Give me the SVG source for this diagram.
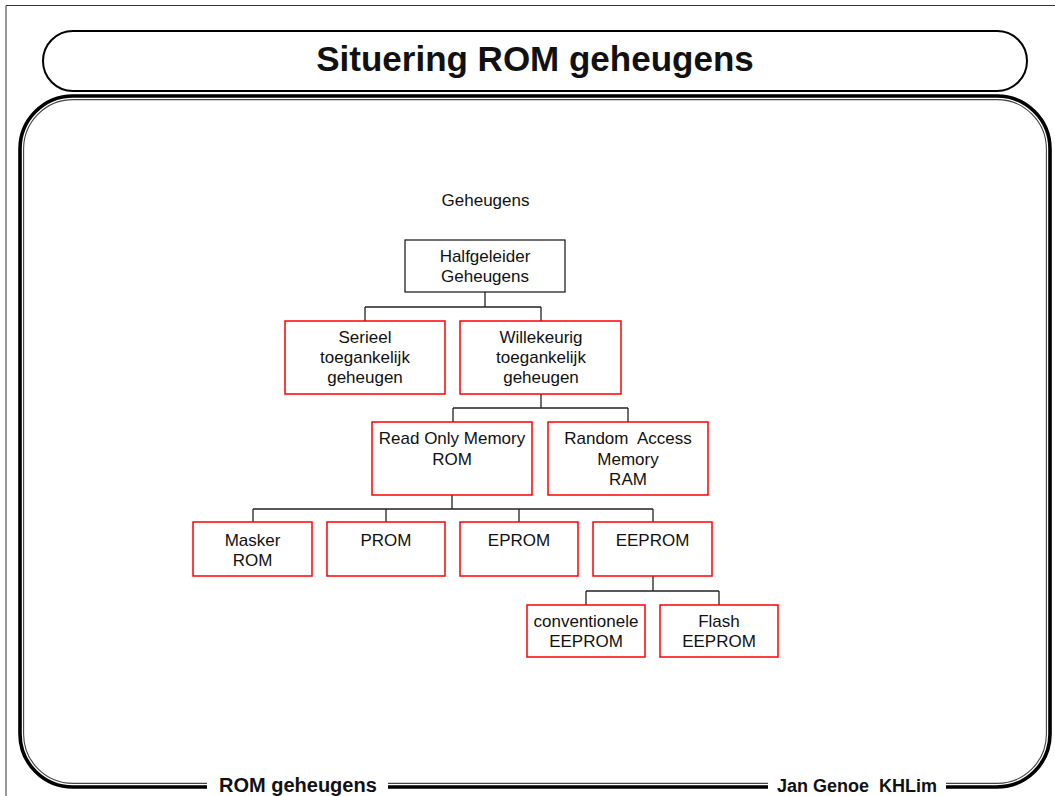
<svg xmlns="http://www.w3.org/2000/svg" width="1055" height="796" viewBox="0 0 1055 796">
<style>
.bg{fill:#fff}
.node rect{fill:#fff;stroke:#ff0000;stroke-width:1.5}
.node.black rect{stroke:#111;stroke-width:1.2}
.node text, .lbl{font-family:"Liberation Sans",Arial,sans-serif;font-size:17px;fill:#111;text-anchor:middle}
.conn{fill:none;stroke:#222;stroke-width:1.3}
.frame-thick{fill:none;stroke:#000;stroke-width:3.6}
.frame-thin{fill:none;stroke:#444;stroke-width:1.1}
.foot{font-family:"Liberation Sans",Arial,sans-serif;font-weight:bold;fill:#111}
</style>
<rect class="bg" x="0" y="0" width="1055" height="796"/>
<g id="page-frame">
<path d="M6,796 V5.5 H1055" fill="none" stroke="#333" stroke-width="1"/>
<rect x="43" y="31" width="984" height="60" rx="30" ry="30" fill="#fff" stroke="#000" stroke-width="2"/>
<text x="535" y="71" font-family="Liberation Sans,Arial,sans-serif" font-weight="bold" font-size="35" text-anchor="middle" fill="#111">Situering ROM geheugens</text>
<path class="frame-thick" d="M207,787 H73 A53,53 0 0 1 20,734 V149 A53,53 0 0 1 73,96 H997 A53,53 0 0 1 1050,149 V734 A53,53 0 0 1 997,787 H946 M768,787 H388"/>
<path class="frame-thin" d="M207,783.4 H73 A49.4,49.4 0 0 1 23.6,734 V149 A49.4,49.4 0 0 1 73,99.6 H997 A49.4,49.4 0 0 1 1046.4,149 V734 A49.4,49.4 0 0 1 997,783.4 H946 M768,783.4 H388"/>
<text class="foot" x="219" y="792" font-size="20">ROM geheugens</text>
<text class="foot" x="777" y="792" font-size="18" xml:space="preserve">Jan Genoe  KHLim</text>
</g>
<text class="lbl" x="485.5" y="206">Geheugens</text>
<g id="connectors">
<path class="conn" d="M485,292 V307 M365,307 H541 M365,307 V321 M541,307 V321"/>
<path class="conn" d="M541,394 V408 M453,408 H628 M453,408 V422 M628,408 V422"/>
<path class="conn" d="M452,495 V509 M253,509 H653 M253,509 V522 M386,509 V522 M519,509 V522 M653,509 V522"/>
<path class="conn" d="M653,576 V591 M586,591 H719 M586,591 V605 M719,591 V605"/>
</g>
<g id="n-halfgeleider" class="node black">
<rect x="405" y="240" width="160" height="52"/>
<text x="485" y="262">Halfgeleider</text>
<text x="485" y="282">Geheugens</text>
</g>
<g id="n-serieel" class="node">
<rect x="285" y="321" width="160" height="73"/>
<text x="365" y="343">Serieel</text>
<text x="365" y="363">toegankelijk</text>
<text x="365" y="383">geheugen</text>
</g>
<g id="n-willekeurig" class="node">
<rect x="460" y="321" width="161" height="73"/>
<text x="541" y="343">Willekeurig</text>
<text x="541" y="363">toegankelijk</text>
<text x="541" y="383">geheugen</text>
</g>
<g id="n-rom" class="node">
<rect x="372" y="422" width="160" height="73"/>
<text x="452" y="444">Read Only Memory</text>
<text x="452" y="465">ROM</text>
</g>
<g id="n-ram" class="node">
<rect x="548" y="422" width="160" height="73"/>
<text x="628" y="444" xml:space="preserve">Random  Access</text>
<text x="628" y="465">Memory</text>
<text x="628" y="485">RAM</text>
</g>
<g id="n-masker" class="node">
<rect x="193" y="522" width="119" height="54"/>
<text x="252.5" y="546">Masker</text>
<text x="252.5" y="566">ROM</text>
</g>
<g id="n-prom" class="node">
<rect x="327" y="522" width="118" height="54"/>
<text x="386" y="546">PROM</text>
</g>
<g id="n-eprom" class="node">
<rect x="460" y="522" width="118" height="54"/>
<text x="519" y="546">EPROM</text>
</g>
<g id="n-eeprom" class="node">
<rect x="593" y="522" width="119" height="54"/>
<text x="652.5" y="546">EEPROM</text>
</g>
<g id="n-conv" class="node">
<rect x="527" y="605" width="118" height="52"/>
<text x="586" y="627">conventionele</text>
<text x="586" y="647">EEPROM</text>
</g>
<g id="n-flash" class="node">
<rect x="660" y="605" width="118" height="52"/>
<text x="719" y="627">Flash</text>
<text x="719" y="647">EEPROM</text>
</g>
</svg>
